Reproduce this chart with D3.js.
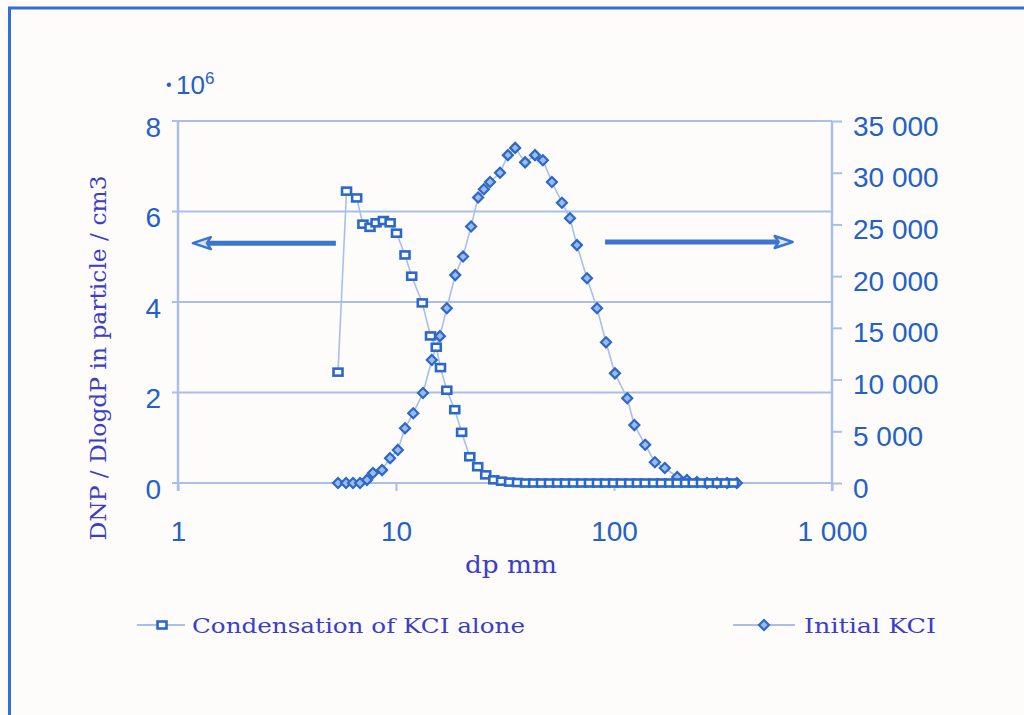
<!DOCTYPE html>
<html><head><meta charset="utf-8">
<script src="https://cdn.jsdelivr.net/npm/d3@7"></script>
<style>
html,body{margin:0;padding:0;background:#fefcfb;overflow:hidden;}
svg{display:block;}
</style></head><body>
<svg id="chart" width="1024" height="715"></svg>
<script>
// ---- data ----
const condDp = [5.42,5.93,6.6,7.05,7.6,8.1,8.75,9.4,10.05,11.0,11.8,13.2,14.4,15.3,16.0,17.1,18.6,20.0,21.8,23.7,25.8,28.1,30.5,33.2,36.1,39.3,42.8,46.5,50.6,55.1,59.9,65.2,71.0,77.2,84.0,91.4,99.5,108,118,128,139,152,165,180,195,213,231,252,274,298,324,353];
const condVal = [2.45,6.45,6.3,5.72,5.65,5.75,5.8,5.75,5.52,5.04,4.57,3.98,3.25,3.0,2.55,2.05,1.62,1.12,0.58,0.36,0.18,0.07,0.04,0.02,0.01,0,0,0,0,0,0,0,0,0,0,0,0,0,0,0,0,0,0,0,0,0,0,0,0,0,0,0];
const initDp = [5.42,5.90,6.35,6.84,7.36,7.84,8.63,9.39,10.2,11.0,12.0,13.3,14.6,15.9,17.1,18.7,20.3,22.1,23.8,25.3,27.0,30.0,32.6,35.2,39.1,43.4,47.2,51.9,57.7,62.8,67.6,75.2,83.6,91.9,101,115,124,139,154,171,195,216,240,267,297,330,366];
const initVal = [0,0,0,0,300,970,1250,2400,3200,5300,6750,8700,11900,14200,16900,20100,21900,24800,27600,28400,29100,30000,31700,32400,31000,31700,31200,29100,27100,25600,23000,19800,16900,13600,10600,8200,5600,3700,2000,1450,580,290,100,0,0,0,0];
const xTicks = [1,10,100,1000];
const xTickLabels = ["1","10","100","1 000"];
const leftTicks = [0,2,4,6,8];
const rightTicks = [0,5000,10000,15000,20000,25000,30000,35000];
const rightTickLabels = ["0","5 000","10 000","15 000","20 000","25 000","30 000","35 000"];
const seriesNames = ["Condensation of KCI alone","Initial KCI"];
const leftArrow = {from:5.3, to:1.17, y:5.3};      // left-axis units
const rightArrow = {from:91, to:660, y:23300};      // right-axis units
const yTitle = "DNP / DlogdP in particle / cm3";
const xTitle = "dp mm";

// ---- layout ----
const svg = d3.select("#chart");
const L = 178, R = 832, T = 121, B = 483;
const x = d3.scaleLog().domain([1,1000]).range([L,R]);
const yL = d3.scaleLinear().domain([0,8]).range([B,T]);
const yR = d3.scaleLinear().domain([0,35000]).range([B,T]);

const blue = "#2c68c8", light = "#a9bfe8", tickCol = "#2360c8", titleCol = "#3b3ec6";

svg.append("rect").attr("width",1024).attr("height",715).attr("fill","#fefcfb");
// frame
svg.append("rect").attr("x",9.5).attr("y",8).attr("width",1200).attr("height",900)
  .attr("fill","none").attr("stroke","#2f70d4").attr("stroke-width",3);

// gridlines
svg.append("g").selectAll("line").data(leftTicks).join("line")
  .attr("x1",L-6).attr("x2",R).attr("y1",d=>yL(d)).attr("y2",d=>yL(d))
  .attr("stroke",light).attr("stroke-width",2);

// axis lines
svg.append("line").attr("x1",L).attr("x2",L).attr("y1",T).attr("y2",B+8).attr("stroke",light).attr("stroke-width",2.5);
svg.append("line").attr("x1",R).attr("x2",R).attr("y1",T).attr("y2",B+8).attr("stroke",light).attr("stroke-width",2.5);

function styleAxis(g){
  g.select(".domain").remove();
  g.selectAll(".tick line").attr("stroke",light).attr("stroke-width",2);
  g.selectAll(".tick text").attr("fill",tickCol)
    .style("font-family","'Liberation Sans', Arial, sans-serif").style("font-size","28px");
}
// left axis
svg.append("g").attr("transform",`translate(${L},0)`)
  .call(d3.axisLeft(yL).tickValues(leftTicks).tickSize(0).tickPadding(17).tickFormat(d3.format("d")))
  .call(styleAxis).call(g=>g.selectAll(".tick text").attr("dy","0.55em"));
// right axis
svg.append("g").attr("transform",`translate(${R},0)`)
  .call(d3.axisRight(yR).tickValues(rightTicks).tickSize(10).tickPadding(11).tickFormat((d,i)=>rightTickLabels[i]))
  .call(styleAxis).call(g=>g.selectAll(".tick text").attr("dy","0.5em"));
// bottom axis
svg.append("g").attr("transform",`translate(0,${B})`)
  .call(d3.axisBottom(x).tickValues(xTicks).tickSize(8).tickPadding(30).tickFormat((d,i)=>xTickLabels[i]))
  .call(styleAxis);

// multiplier label
const mt = svg.append("text").attr("x",166).attr("y",94).attr("fill",tickCol)
  .style("font-family","'Liberation Sans', Arial, sans-serif").style("font-size","26px");
mt.append("tspan").text("\u2022 ").style("font-size","16px").attr("dy","-4");
mt.append("tspan").text("10").attr("dy","4");
mt.append("tspan").text("6").style("font-size","17px").attr("dy","-10");

// titles
svg.append("text").attr("transform","translate(106,358) rotate(-90)").attr("text-anchor","middle")
  .attr("fill",titleCol).style("font-family","'DejaVu Serif', serif").style("font-size","22px")
  .attr("textLength",365).attr("lengthAdjust","spacingAndGlyphs").text(yTitle);
svg.append("text").attr("x",511).attr("y",573).attr("text-anchor","middle")
  .attr("fill",titleCol).style("font-family","'DejaVu Serif', serif").style("font-size","25px")
  .attr("textLength",92).attr("lengthAdjust","spacingAndGlyphs").text(xTitle);

// series lines
const condPts = condDp.map((d,i)=>[d,condVal[i]]);
const initPts = initDp.map((d,i)=>[d,initVal[i]]);
svg.append("path").datum(condPts).attr("fill","none").attr("stroke",light).attr("stroke-width",1.6)
  .attr("d",d3.line().x(d=>x(d[0])).y(d=>yL(d[1])));
svg.append("path").datum(initPts).attr("fill","none").attr("stroke",light).attr("stroke-width",1.6)
  .attr("d",d3.line().x(d=>x(d[0])).y(d=>yR(d[1])));

// markers
const diamond = "M0,-5L5,0L0,5L-5,0Z";
svg.append("g").selectAll("path").data(initPts).join("path")
  .attr("transform",d=>`translate(${x(d[0])},${yR(d[1])})`).attr("d",diamond)
  .attr("fill","#9dbbea").attr("stroke",blue).attr("stroke-width",2.2);
svg.append("g").selectAll("rect").data(condPts).join("rect")
  .attr("x",d=>x(d[0])-4.5).attr("y",d=>yL(d[1])-3.5).attr("width",9).attr("height",7)
  .attr("fill","#ffffff").attr("stroke",blue).attr("stroke-width",2.6);

// arrows
function arrow(x1,x2,y,dir){
  svg.append("line").attr("x1",x1).attr("x2",x2+dir*12).attr("y1",y).attr("y2",y)
    .attr("stroke","#3a76d0").attr("stroke-width",5);
  const tip = x2, base = x2 + dir*18;
  svg.append("path").attr("d",`M${tip},${y}L${base},${y-6}L${base-dir*4},${y}L${base},${y+6}Z`)
    .attr("fill","#dbe5f6").attr("stroke","#3a76d0").attr("stroke-width",2.5).attr("stroke-linejoin","round");
}
arrow(x(leftArrow.from), x(leftArrow.to), yL(leftArrow.y), 1);
arrow(x(rightArrow.from), x(rightArrow.to), yR(rightArrow.y), -1);

// legend
const lg = svg.append("g");
lg.append("line").attr("x1",137).attr("x2",185).attr("y1",625).attr("y2",625).attr("stroke",light).attr("stroke-width",2);
lg.append("rect").attr("x",157.5).attr("y",621.5).attr("width",9).attr("height",7)
  .attr("fill","#fff").attr("stroke",blue).attr("stroke-width",2.6);
lg.append("text").attr("x",192).attr("y",633).attr("fill",titleCol)
  .style("font-family","'DejaVu Serif', serif").style("font-size","21px")
  .attr("textLength",333).attr("lengthAdjust","spacingAndGlyphs").text(seriesNames[0]);
lg.append("line").attr("x1",733).attr("x2",795).attr("y1",625).attr("y2",625).attr("stroke",light).attr("stroke-width",2);
lg.append("path").attr("transform","translate(764,625)").attr("d",diamond)
  .attr("fill","#9dbbea").attr("stroke",blue).attr("stroke-width",2.2);
lg.append("text").attr("x",804).attr("y",633).attr("fill",titleCol)
  .style("font-family","'DejaVu Serif', serif").style("font-size","21px")
  .attr("textLength",132).attr("lengthAdjust","spacingAndGlyphs").text(seriesNames[1]);
</script>
</body></html>
